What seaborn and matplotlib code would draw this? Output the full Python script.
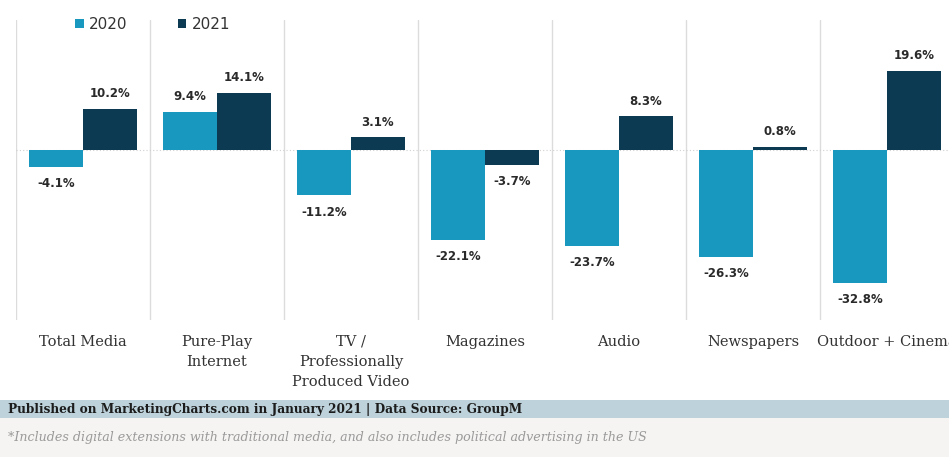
import matplotlib
matplotlib.use("Agg")
import matplotlib.pyplot as plt
import seaborn as sns
import pandas as pd
from matplotlib.patches import Rectangle

categories = ["Total Media", "Pure-Play\nInternet", "TV /\nProfessionally\nProduced Video",
              "Magazines", "Audio", "Newspapers", "Outdoor + Cinema"]
years = ["2020", "2021"]
growth_2020 = [-4.1, 9.4, -11.2, -22.1, -23.7, -26.3, -32.8]
growth_2021 = [10.2, 14.1, 3.1, -3.7, 8.3, 0.8, 19.6]

df = pd.DataFrame({
    "category": categories * 2,
    "year": [years[0]] * len(categories) + [years[1]] * len(categories),
    "growth": growth_2020 + growth_2021,
})

sns.set_theme(style="white")
plt.rcParams["font.family"] = ["DejaVu Sans"]

W, H = 949, 457
fig = plt.figure(figsize=(W / 100, H / 100), dpi=100)
fig.patch.set_facecolor("white")

# plot area: 7 columns of 134 px, the last one running past the right edge
left_px, top_px, bottom_px = 16, 20, 320
col_px = 134
ax = fig.add_axes([left_px / W, 1 - bottom_px / H, 7 * col_px / W, (bottom_px - top_px) / H])

palette = {"2020": "#1898bf", "2021": "#0c3a52"}
sns.barplot(data=df, x="category", y="growth", hue="year", hue_order=years,
            order=categories, palette=palette, width=0.8, ax=ax,
            saturation=1, edgecolor="none", legend=True)

px_per_unit = 4.05
ax.set_ylim(-(bottom_px - 150) / px_per_unit, (150 - top_px) / px_per_unit)
ax.set_xlim(-0.5, len(categories) - 0.5)

# column separators and zero line
for i in range(len(categories)):
    ax.axvline(i - 0.5, color="#dcdcdc", lw=1.0, zorder=0)
ax.axhline(0, color="#d0d0d0", lw=0.8, ls=(0, (1, 2)), zorder=0)

# value labels
for cont in ax.containers:
    for bar in cont:
        v = bar.get_height()
        x = bar.get_x() + bar.get_width() / 2
        off = 11 if v >= 0 else -12
        ax.annotate(f"{v:.1f}%", (x, v), xytext=(0, off), textcoords="offset points",
                    ha="center", va="center", fontsize=8.5, fontweight="bold",
                    color="#2a2a2a", family=["DejaVu Sans"])

for s in ax.spines.values():
    s.set_visible(False)
ax.set_yticks([])
ax.set_xlabel("")
ax.set_ylabel("")
ax.tick_params(axis="x", length=0, pad=10.5)
ax.set_xticks(range(len(categories)))
ax.set_xticklabels(categories, family=["DejaVu Serif"], fontsize=10.5,
                   color="#333333", linespacing=1.55, va="top")

# legend
leg = ax.legend(loc="upper left", bbox_to_anchor=((69 - left_px) / (7 * col_px), 1.03),
                ncol=2, frameon=False, handlelength=0.55, handleheight=0.55,
                handletextpad=0.35, columnspacing=3.3, fontsize=11, borderaxespad=0)
for t in leg.get_texts():
    t.set_color("#333333")

# footer: source band and note strip
fig.patches.append(Rectangle((0, 1 - 418 / H), 1, 18 / H, transform=fig.transFigure,
                             facecolor="#bdd2da", edgecolor="none", zorder=0))
fig.patches.append(Rectangle((0, 0), 1, 1 - 418 / H, transform=fig.transFigure,
                             facecolor="#f6f4f3", edgecolor="none", zorder=0))

fig.text(8 / W, 1 - 409 / H, "Published on MarketingCharts.com in January 2021 | Data Source: GroupM",
         family=["DejaVu Serif"], fontsize=8.7, fontweight="bold", color="#1c1c1c",
         ha="left", va="center")
fig.text(8 / W, 1 - 438 / H,
         "*Includes digital extensions with traditional media, and also includes political advertising in the US",
         family=["DejaVu Serif"], fontsize=9.1, style="italic", color="#9a9a9a",
         ha="left", va="center")

fig.savefig("out.png", dpi=100, facecolor="white")
